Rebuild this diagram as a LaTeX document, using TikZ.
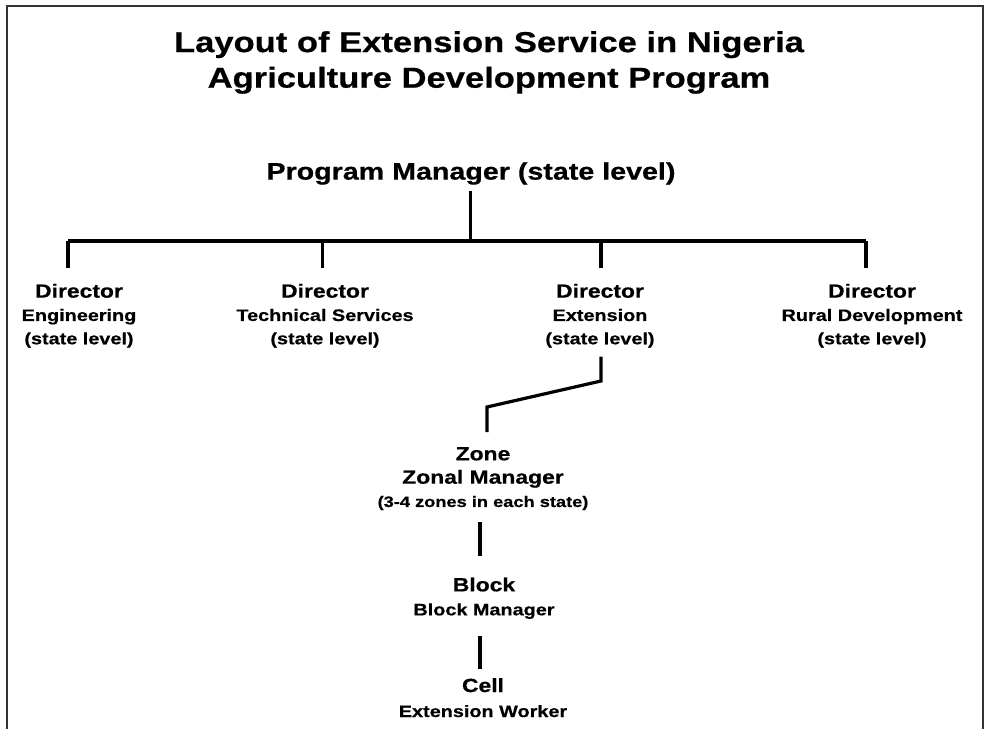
\documentclass[tikz,border=0pt]{standalone}
\usepackage{fontspec}
\setmainfont{Liberation Sans}[FakeStretch=1.2,BoldFeatures={FakeBold=0.6}]
\usetikzlibrary{calc}
\newcommand{\hdsz}{\fontsize{14.3}{17.5}\selectfont}
\newcommand{\notesz}{\fontsize{11.4}{17.5}\selectfont}
\definecolor{framegray}{HTML}{333333}
\begin{document}
\begin{tikzpicture}[x=0.75pt,y=-0.75pt,
  every node/.style={inner sep=0pt,outer sep=0pt,align=center,anchor=north},
  titlebox/.style={font=\bfseries\fontsize{21.6}{26.7}\selectfont},
  pmbox/.style={font=\bfseries\fontsize{17.9}{22}\selectfont},
  dirbox/.style={font=\bfseries\fontsize{12.4}{17.5}\selectfont},
  unitbox/.style={font=\bfseries\fontsize{12.4}{#1}\selectfont},
  conn/.style={line width=2.4pt,black},
  frameline/.style={line width=1.1pt,framegray}]
\useasboundingbox (0,0) rectangle (984,729);
\draw[frameline] (7,729) -- (7,6) -- (983,6) -- (983,729);

\node[titlebox] (title) at (489,31.2) {Layout of Extension Service in Nigeria\\Agriculture Development Program};
\node[pmbox] (pm) at (471,162.3) {Program Manager (state level)};

\node[dirbox] (dEng) at (79,283.8) {{\hdsz Director}\\Engineering\\(state level)};
\node[dirbox] (dTech) at (325,283.8) {{\hdsz Director}\\Technical Services\\(state level)};
\node[dirbox] (dExt) at (600,283.8) {{\hdsz Director}\\Extension\\(state level)};
\node[dirbox] (dRural) at (872,283.8) {{\hdsz Director}\\Rural Development\\(state level)};

\node[dirbox] (zone) at (483,447.2) {{\hdsz Zone}\\{\hdsz Zonal Manager}\\{\notesz (3-4 zones in each state)}};
\node[unitbox=18] (block) at (484,577.5) {{\hdsz Block}\\Block Manager};
\node[unitbox=18.75] (cell) at (483,678.2) {{\hdsz Cell}\\Extension Worker};

\coordinate (busL) at (68,241);
\coordinate (busR) at (866,241);
\coordinate (busM) at (470.7,241);
\coordinate (jTech) at (322.7,241);
\coordinate (jExt) at (601,241);
\coordinate (kneeA) at (601,381);
\coordinate (kneeB) at (487,407);
\coordinate (zb) at (480,0);

\draw[conn] (busL) -- (busR);
\draw[conn] ($(pm.south -| busM)+(0,6)$) -- (busM);
\draw[conn] (busL) -- ($(busL |- dEng.north)+(0,-15.8)$);
\draw[conn] (jTech) -- ($(jTech |- dTech.north)+(0,-15.8)$);
\draw[conn] (jExt) -- ($(jExt |- dExt.north)+(0,-15.8)$);
\draw[conn] (busR) -- ($(busR |- dRural.north)+(0,-15.8)$);
\draw[conn] ($(dExt.south -| kneeA)+(0,9)$) -- (kneeA) -- (kneeB) -- ($(kneeB |- zone.north)+(0,-15)$);
\draw[conn] ($(zone.south -| zb)+(0,12)$) -- ($(zb |- block.north)+(0,-21.5)$);
\draw[conn] ($(block.south -| zb)+(0,17)$) -- ($(zb |- cell.north)+(0,-9.5)$);
\end{tikzpicture}
\end{document}
